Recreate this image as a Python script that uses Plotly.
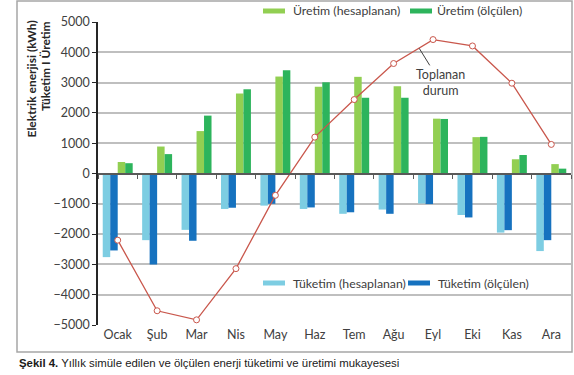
import plotly.graph_objects as go

# ---- data ----
months = ["Ocak", "Şub", "Mar", "Nis", "May", "Haz", "Tem", "Ağu", "Eyl", "Eki", "Kas", "Ara"]
tuketim_hes = [-2760, -2200, -1860, -1170, -1060, -1170, -1330, -1190, -990, -1370, -1950, -2560]
tuketim_olc = [-2540, -3000, -2220, -1130, -1000, -1120, -1280, -1330, -1010, -1450, -1870, -2200]
uretim_hes = [380, 890, 1400, 2640, 3200, 2860, 3190, 2880, 1810, 1200, 470, 310]
uretim_olc = [340, 640, 1910, 2780, 3410, 3010, 2500, 2500, 1800, 1210, 610, 160]
toplanan = [-2200, -4530, -4830, -3140, -720, 1200, 2440, 3630, 4420, 4210, 2980, 960]
y_ticks = [-5000, -4000, -3000, -2000, -1000, 0, 1000, 2000, 3000, 4000, 5000]

names = ["Tüketim (hesaplanan)", "Tüketim (ölçülen)", "Üretim (hesaplanan)", "Üretim (ölçülen)"]
colors = ["#7dcde2", "#1672bf", "#92cf52", "#2db45c"]
series = [tuketim_hes, tuketim_olc, uretim_hes, uretim_olc]

W, H = 574, 375
ML, MR, MT, MB = 98, 3, 22, 50
PW, PH = W - ML - MR, H - MT - MB


def px(xp):
    return (xp - ML) / PW


def py(yp):
    return (H - MB - yp) / PH


FONT = "Lato, Calibri, 'Open Sans', sans-serif"
TXT = "#404040"

fig = go.Figure()
for nm, col, vals in zip(names, colors, series):
    fig.add_trace(go.Bar(x=months, y=vals, name=nm, marker=dict(color=col, line=dict(width=0)),
                         showlegend=False))

fig.add_trace(go.Scatter(x=months, y=toplanan, xaxis="x2", mode="lines+markers",
                         line=dict(color="#c9574c", width=1.3),
                         marker=dict(symbol="circle", size=6, color="white",
                                     line=dict(color="#c9574c", width=1)),
                         showlegend=False, name="Toplanan durum"))

shapes = []
annotations = []

# frame around the chart
shapes.append(dict(type="rect", xref="paper", yref="paper", x0=px(17), x1=px(572), y0=py(352), y1=py(1),
                   line=dict(color="#a6a6a6", width=1.5), fillcolor="rgba(0,0,0,0)", layer="below"))

# custom legend (wide swatches like the original)
legend_pos = [  # (swatch x0, text x, y center) in pixels
    (263, 291, 283),
    (408, 436, 283),
    (263, 291, 11),
    (410, 435, 11),
]
for (sx, tx, cy), nm, col in zip(legend_pos, names, colors):
    shapes.append(dict(type="rect", xref="paper", yref="paper", x0=px(sx), x1=px(sx + 22),
                       y0=py(cy + 2.5), y1=py(cy - 2.5), line=dict(width=0), fillcolor=col))
    annotations.append(dict(xref="paper", yref="paper", x=px(tx), y=py(cy), text=nm, showarrow=False,
                            xanchor="left", yanchor="middle", font=dict(family=FONT, size=12.3, color=TXT)))

# y axis title (two lines)
annotations.append(dict(xref="paper", yref="paper", x=px(31), y=py(19), text="<b>Elektrik enerjisi (kWh)</b>",
                        textangle=-90, showarrow=False, xanchor="center", yanchor="top",
                        font=dict(family=FONT, size=12, color="#262626")))
annotations.append(dict(xref="paper", yref="paper", x=px(45), y=py(19), text="<b>Tüketim I Üretim</b>",
                        textangle=-90, showarrow=False, xanchor="center", yanchor="top",
                        font=dict(family=FONT, size=12, color="#262626")))

# line label
annotations.append(dict(xref="x2", yref="y", x=7.65, y=4130, text="Toplanan<br>durum", showarrow=True,
                        arrowhead=0, arrowwidth=1, arrowcolor="#404040", ax=21, ay=34,
                        font=dict(family=FONT, size=12.5, color=TXT)))

# caption
annotations.append(dict(xref="paper", yref="paper", x=px(17), y=py(363),
                        text="<b>Şekil 4.</b> Yıllık simüle edilen ve ölçülen enerji tüketimi ve üretimi mukayesesi",
                        showarrow=False, xanchor="left", yanchor="middle",
                        font=dict(family="'Liberation Sans Narrow', 'Arial Narrow', sans-serif", size=11.4,
                                  color="#1a1a1a")))

fig.update_layout(
    width=W, height=H,
    margin=dict(l=ML, r=MR, t=MT, b=MB, pad=0),
    paper_bgcolor="white", plot_bgcolor="white",
    barmode="group", bargap=0.24, bargroupgap=0,
    shapes=shapes, annotations=annotations,
    xaxis=dict(categoryorder="array", categoryarray=months, range=[-0.5, 11.5],
               anchor="free", position=0, showline=False, ticks="", showgrid=False,
               tickfont=dict(family=FONT, size=12.5, color=TXT)),
    xaxis2=dict(categoryorder="array", categoryarray=months, range=[-0.5, 11.5],
                overlaying="x", anchor="free", position=0.5, showline=True, linecolor="#595959",
                linewidth=2, ticks="outside", tickson="boundaries", ticklen=4, tickcolor="#595959",
                tickwidth=1, showticklabels=False, showgrid=False),
    yaxis=dict(range=[-5000, 5000], tickvals=y_ticks, showline=True, linecolor="#262626", linewidth=1.5,
               ticks="outside", ticklen=4, tickcolor="#262626", gridcolor="#bfbfbf", gridwidth=1.5,
               zeroline=False, tickfont=dict(family=FONT, size=12.5, color=TXT)),
    font=dict(family=FONT),
)

fig.write_html("out.html", config={"displayModeBar": False},
               post_script="document.body.style.margin='0';document.body.style.padding='0';")
